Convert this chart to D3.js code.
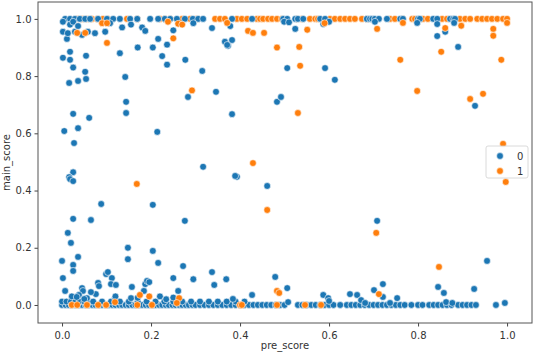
<!DOCTYPE html>
<html>
<head>
<meta charset="utf-8">
<script src="https://cdn.jsdelivr.net/npm/d3@7"></script>
<style>
  body { margin: 0; background: #fff; }
  svg { display: block; }
  text { font-family: "DejaVu Sans", sans-serif; }
</style>
</head>
<body>
<script>
// class 0 (blue) - [pre_score, main_score]
var topRow0 = [0.007,0.018,0.029,0.04,0.052,0.063,0.081,0.101,0.115,0.13,0.153,0.169,0.198,0.216,0.231,
  0.243,0.258,0.276,0.294,0.306,0.317,0.382,0.427,0.497,0.506,0.524,0.53,0.542,0.58,0.591,0.685,0.692,
  0.697,0.703,0.712,0.73,0.76,0.766,0.8,0.804,0.834,0.843,0.872,0.879,0.883];
var bottomRow0 = [0.0,0.008,0.015,0.022,0.03,0.038,0.045,0.053,0.06,0.068,0.075,0.083,0.09,0.098,0.105,
  0.113,0.12,0.128,0.135,0.143,0.15,0.158,0.165,0.173,0.18,0.188,0.195,0.203,0.21,0.218,0.225,0.233,0.24,
  0.248,0.255,0.263,0.27,0.278,0.285,0.293,0.3,0.31,0.32,0.33,0.34,0.35,0.36,0.37,0.38,0.39,0.4,0.41,0.42,
  0.43,0.44,0.45,0.46,0.47,0.48,0.49,0.5,0.53,0.54,0.55,0.56,0.57,0.58,0.59,0.6,0.61,0.625,0.64,0.65,0.66,
  0.67,0.68,0.69,0.7,0.71,0.72,0.73,0.74,0.75,0.76,0.77,0.785,0.8,0.81,0.825,0.835,0.845,0.855,0.865,
  0.875,0.89,0.9,0.91,0.92,0.93];
var lowRow0 = [0.0,0.01,0.02,0.03,0.04,0.05,0.06,0.07,0.09,0.11,0.13,0.15,0.17,0.19,0.21,0.23,0.25,0.27,
  0.29,0.31,0.33,0.35,0.37,0.39,0.41];
var scatter0 = [
  [0.002,0.99],[0.002,0.955],[0.011,0.93],[0.013,0.95],[0.018,0.98],[0.025,0.99],[0.029,0.955],[0.036,0.975],
  [0.045,0.944],[0.058,0.955],[0.074,0.95],[0.097,0.955],[0.108,0.985],[0.135,0.97],[0.155,0.98],[0.18,0.97],
  [0.187,0.958],[0.25,0.96],[0.295,0.985],[0.337,0.968],[0.366,0.92],[0.373,0.906],[0.378,0.975],[0.382,0.926],
  [0.371,0.909],[0.499,0.99],[0.51,0.988],[0.524,0.965],[0.587,0.982],[0.6,0.99],[0.703,0.99],[0.798,0.986],
  [0.843,0.982],[0.843,0.94],[0.861,0.955],[0.881,0.986],[0.89,0.902],
  [0.13,0.88],[0.17,0.9],[0.204,0.9],[0.216,0.93],[0.225,0.87],[0.236,0.91],[0.236,0.84],[0.277,0.857],
  [0.315,0.818],[0.346,0.745],[0.382,0.667],[0.283,0.727],[0.317,0.483],[0.393,0.448],
  [0.002,0.864],[0.018,0.885],[0.018,0.857],[0.025,0.83],[0.016,0.776],[0.036,0.783],[0.054,0.871],
  [0.052,0.815],[0.054,0.79],[0.025,0.668],[0.061,0.654],[0.005,0.608],[0.036,0.618],[0.027,0.566],
  [0.025,0.464],[0.016,0.447],[0.142,0.797],[0.144,0.71],[0.144,0.671],[0.214,0.605],
  [0.506,0.828],[0.483,0.71],[0.492,0.727],[0.591,0.828],[0.613,0.787],[0.928,0.696],
  [0.0,0.154],[0.002,0.094],[0.007,0.049],[0.013,0.252],[0.02,0.217],[0.025,0.14],[0.025,0.119],[0.025,0.301],
  [0.018,0.44],[0.025,0.433],[0.036,0.168],[0.045,0.059],[0.047,0.049],[0.038,0.035],[0.056,0.024],
  [0.065,0.297],[0.076,0.038],[0.081,0.077],[0.083,0.066],[0.088,0.353],[0.099,0.108],[0.103,0.115],
  [0.112,0.094],[0.11,0.073],[0.121,0.07],[0.119,0.024],[0.148,0.2],[0.148,0.16],[0.157,0.063],[0.155,0.024],
  [0.184,0.049],[0.187,0.073],[0.191,0.084],[0.196,0.08],[0.204,0.35],[0.204,0.189],[0.216,0.147],
  [0.25,0.094],[0.261,0.049],[0.272,0.136],[0.276,0.294],[0.295,0.09],[0.337,0.115],[0.342,0.07],
  [0.369,0.09],[0.384,0.021],[0.389,0.451],[0.427,0.035],[0.461,0.416],[0.708,0.294],[0.479,0.098],
  [0.506,0.059],[0.508,0.01],[0.587,0.035],[0.598,0.024],[0.6,0.014],[0.647,0.038],[0.663,0.035],
  [0.672,0.017],[0.681,0.007],[0.701,0.052],[0.721,0.073],[0.721,0.028],[0.753,0.024],[0.737,0.007],
  [0.845,0.063],[0.858,0.042],[0.863,0.01],[0.877,0.007],[0.926,0.056],[0.955,0.154],[0.975,0.0],
  [0.995,0.007],[0.022,0.03],[0.033,0.028],[0.05,0.021],[0.065,0.045],[0.12,0.03],[0.17,0.025],
  [0.22,0.03],[0.234,0.02],[0.25,0.026]
];

// class 1 (orange)
var topRow1 = [0.034,0.045,0.056,0.067,0.079,0.092,0.103,0.146,0.169,0.22,0.231,0.243,0.27,0.288,0.303,
  0.344,0.355,0.366,0.393,0.404,0.416,0.438,0.445,0.452,0.463,0.472,0.483,0.494,0.528,0.539,0.557,0.569,
  0.575,0.602,0.613,0.625,0.636,0.647,0.658,0.674,0.685,0.737,0.748,0.766,0.787,0.793,0.811,0.822,0.854,
  0.865,0.894,0.906,0.917,0.933,0.944,0.955,0.966,0.978,0.991,1.0];
var bottomRow1 = [0.022,0.034,0.056,0.081,0.099,0.169,0.202,0.4,0.404,0.483,0.546,0.582];
var scatter1 = [
  [0.034,0.951],[0.052,0.951],[0.09,0.985],[0.101,0.985],[0.101,0.916],[0.238,0.99],[0.261,0.983],
  [0.25,0.932],[0.27,0.98],[0.292,0.75],[0.371,0.986],[0.418,0.958],[0.429,0.951],[0.454,0.951],
  [0.429,0.496],[0.483,0.9],[0.533,0.902],[0.535,0.836],[0.53,0.671],[0.551,0.962],[0.59,0.985],
  [0.708,0.965],[0.76,0.857],[0.766,0.986],[0.798,0.748],[0.852,0.885],[0.861,0.968],[0.897,0.976],
  [0.917,0.72],[0.946,0.738],[0.969,0.965],[0.969,0.941],[0.987,0.857],[1.0,0.986],[0.991,0.563],
  [0.997,0.43],[0.168,0.423],[0.461,0.332],[0.175,0.035],[0.196,0.03],[0.119,0.01],[0.263,0.024],
  [0.258,0.007],[0.706,0.252],[0.483,0.049],[0.488,0.042],[0.712,0.038],[0.847,0.133]
];

var xTicks = [0, 0.2, 0.4, 0.6, 0.8, 1.0];
var yTicks = [0, 0.2, 0.4, 0.6, 0.8, 1.0];
var legendLabels = ["0", "1"];
var colors = ["#1f77b4", "#ff7f0e"];

function makeChart() {
  var w = 534, h = 352;
  var left = 38, right = 532, top = 2, bottom = 323;

  var x = d3.scaleLinear().domain([-0.054, 1.056]).range([left, right]);
  var y = d3.scaleLinear().domain([-0.063, 1.059]).range([bottom, top]);

  var svg = d3.select("body").append("svg")
    .attr("width", w)
    .attr("height", h);

  // soft look like the reference
  svg.append("defs").append("filter")
    .attr("id", "soft")
    .append("feGaussianBlur")
    .attr("stdDeviation", 0.35);

  // build point lists, drawn in this order (class 0 sits over the orange top row)
  var layers = [
    { pts: topRow1.map(function(d) { return [d, 1.0]; }), c: colors[1] },
    { pts: topRow0.map(function(d) { return [d, 1.0]; })
        .concat(bottomRow0.map(function(d) { return [d, 0.0]; }))
        .concat(lowRow0.map(function(d) { return [d, 0.012]; }))
        .concat(scatter0), c: colors[0] },
    { pts: bottomRow1.map(function(d) { return [d, 0.0]; }).concat(scatter1), c: colors[1] }
  ];

  var g = svg.append("g").attr("filter", "url(#soft)");

  layers.forEach(function(layer) {
    g.append("g").selectAll("circle")
      .data(layer.pts)
      .enter()
      .append("circle")
      .attr("cx", function(d) { return x(d[0]); })
      .attr("cy", function(d) { return y(d[1]); })
      .attr("r", 3.4)
      .attr("fill", layer.c)
      .attr("stroke", "#fff")
      .attr("stroke-width", 0.6);
  });

  // axes
  var xAxis = d3.axisBottom(x).tickValues(xTicks).tickFormat(d3.format(".1f")).tickSize(3.5).tickSizeOuter(0);
  var yAxis = d3.axisLeft(y).tickValues(yTicks).tickFormat(d3.format(".1f")).tickSize(3.5).tickSizeOuter(0);

  var gx = svg.append("g")
    .attr("transform", "translate(0," + bottom + ")")
    .call(xAxis);
  var gy = svg.append("g")
    .attr("transform", "translate(" + left + ",0)")
    .call(yAxis);

  [gx, gy].forEach(function(a) {
    a.select(".domain").remove();
    a.selectAll("line").attr("stroke", "#444");
    a.selectAll("text")
      .attr("fill", "#333")
      .style("font-size", "10px")
      .style("font-family", "DejaVu Sans, sans-serif");
  });
  gx.selectAll("text").attr("dy", "0.9em");

  // frame
  svg.append("rect")
    .attr("x", left)
    .attr("y", top)
    .attr("width", right - left)
    .attr("height", bottom - top)
    .attr("fill", "none")
    .attr("stroke", "#555")
    .attr("stroke-width", 1);

  // labels
  svg.append("text")
    .attr("x", (left + right) / 2)
    .attr("y", 349)
    .attr("text-anchor", "middle")
    .attr("fill", "#333")
    .style("font-size", "10px")
    .text("pre_score");

  svg.append("text")
    .attr("transform", "translate(10," + ((top + bottom) / 2) + ") rotate(-90)")
    .attr("text-anchor", "middle")
    .attr("fill", "#333")
    .style("font-size", "10px")
    .text("main_score");

  // legend
  var lg = svg.append("g").attr("transform", "translate(486,146)");
  lg.append("rect")
    .attr("width", 42)
    .attr("height", 32)
    .attr("rx", 2)
    .attr("fill", "#fff")
    .attr("fill-opacity", 0.85)
    .attr("stroke", "#d0d0d0")
    .attr("stroke-width", 0.8);
  legendLabels.forEach(function(lab, i) {
    lg.append("circle")
      .attr("cx", 14)
      .attr("cy", 10 + i * 15)
      .attr("r", 3.4)
      .attr("fill", colors[i])
      .attr("stroke", "#fff")
      .attr("stroke-width", 0.6);
    lg.append("text")
      .attr("x", 31)
      .attr("y", 10 + i * 15)
      .attr("dy", "0.35em")
      .attr("fill", "#333")
      .style("font-size", "10px")
      .text(lab);
  });
}

makeChart();
</script>
</body>
</html>
